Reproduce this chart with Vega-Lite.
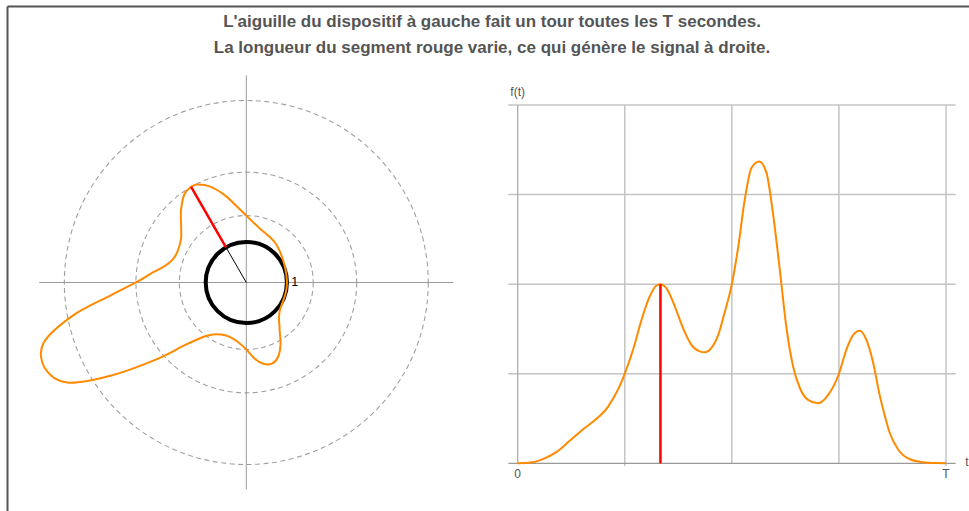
{
  "$schema": "https://vega.github.io/schema/vega-lite/v6.json",
  "width": 962,
  "height": 505,
  "autosize": {"type": "none"},
  "padding": {"left": 7, "top": 6, "right": 0, "bottom": 0},
  "background": "white",
  "title": {
    "text": ["L'aiguille du dispositif à gauche fait un tour toutes les T secondes.", "La longueur du segment rouge varie, ce qui génère le signal à droite."],
    "fontSize": 17,
    "fontWeight": "bold",
    "font": "Liberation Sans",
    "color": "#555555",
    "lineHeight": 26.5,
    "offset": -51,
    "dx": 4,
    "anchor": "middle",
    "frame": "group"
  },
  "config": {
    "view": {"stroke": null},
    "axis": {"ticks": false, "labels": false, "grid": false, "title": null, "domainColor": "#555555", "domainWidth": 2}
  },
  "resolve": {"scale": {"x": "independent", "y": "independent"}, "axis": {"x": "independent", "y": "independent"}},
  "layer": [
    {
      "encoding": {
        "x": {"field": "x", "type": "quantitative", "scale": {"domain": [-5.894, 17.8], "nice": false, "zero": false}, "axis": {"orient": "top"}},
        "y": {"field": "y", "type": "quantitative", "scale": {"domain": [-5.628, 6.81], "nice": false, "zero": false}, "axis": {"orient": "left"}}
      },
      "layer": [
        {
          "data": {"values": [{"x": 0, "y": 0, "r": 1.6487}, {"x": 0, "y": 0, "r": 2.7183}, {"x": 0, "y": 0, "r": 4.4817}]},
          "mark": {"type": "point", "shape": "circle", "filled": false, "stroke": "#a0a0a0", "strokeWidth": 1.1, "strokeDash": [5, 3.5], "opacity": 1},
          "encoding": {"size": {"field": "r", "type": "quantitative", "scale": {"type": "pow", "exponent": 2, "domain": [0, 1], "range": [0, 6593.4]}, "legend": null}}
        },
        {
          "data": {"values": [{"x": -5.1, "y": 0, "x2": 5.1, "y2": 0}, {"x": 0, "y": -5.1, "x2": 0, "y2": 5.1}]},
          "mark": {"type": "rule", "color": "#999999", "strokeWidth": 1},
          "encoding": {"x2": {"field": "x2"}, "y2": {"field": "y2"}}
        },
        {
          "data": {"values": [{"x": 0, "y": 0, "r": 1}]},
          "mark": {"type": "point", "shape": "circle", "filled": false, "stroke": "#000000", "strokeWidth": 4, "opacity": 1},
          "encoding": {"size": {"field": "r", "type": "quantitative", "legend": null}}
        },
        {
          "data": {"values": [{"x": 0, "y": 0, "x2": -0.5, "y2": 0.866}]},
          "mark": {"type": "rule", "color": "#000000", "strokeWidth": 1},
          "encoding": {"x2": {"field": "x2"}, "y2": {"field": "y2"}}
        },
        {
          "data": {"values": [
            {"t": 0, "x": 1, "y": 0},
            {"t": 0.03, "x": 0.9862, "y": 0.1882},
            {"t": 0.06, "x": 0.9533, "y": 0.3774},
            {"t": 0.09, "x": 0.8988, "y": 0.5704},
            {"t": 0.12, "x": 0.824, "y": 0.7737},
            {"t": 0.15, "x": 0.7108, "y": 0.9782},
            {"t": 0.175, "x": 0.5734, "y": 1.1253},
            {"t": 0.192, "x": 0.4640, "y": 1.2165},
            {"t": 0.21, "x": 0.3400, "y": 1.3243},
            {"t": 0.223, "x": 0.2427, "y": 1.417},
            {"t": 0.237, "x": 0.1248, "y": 1.5245},
            {"t": 0.25, "x": 0, "y": 1.6487},
            {"t": 0.2695, "x": -0.2306, "y": 1.8729},
            {"t": 0.289, "x": -0.5399, "y": 2.159},
            {"t": 0.308, "x": -0.9033, "y": 2.368},
            {"t": 0.324, "x": -1.2095, "y": 2.4117},
            {"t": 0.3333, "x": -1.3591, "y": 2.3541},
            {"t": 0.347, "x": -1.5213, "y": 2.1794},
            {"t": 0.367, "x": -1.6082, "y": 1.78},
            {"t": 0.386, "x": -1.6049, "y": 1.397},
            {"t": 0.406, "x": -1.6069, "y": 1.0779},
            {"t": 0.425, "x": -1.6646, "y": 0.8482},
            {"t": 0.437, "x": -1.7152, "y": 0.7168},
            {"t": 0.452, "x": -1.8155, "y": 0.5648},
            {"t": 0.468, "x": -2.0031, "y": 0.4082},
            {"t": 0.483, "x": -2.3032, "y": 0.2469},
            {"t": 0.5, "x": -2.7183, "y": 0},
            {"t": 0.515, "x": -3.3387, "y": -0.3156},
            {"t": 0.53, "x": -4.2722, "y": -0.815},
            {"t": 0.546, "x": -4.9909, "y": -1.484},
            {"t": 0.5636, "x": -4.9676, "y": -2.0982},
            {"t": 0.581, "x": -4.4129, "y": -2.4619},
            {"t": 0.596, "x": -3.3227, "y": -2.289},
            {"t": 0.612, "x": -2.2447, "y": -1.9058},
            {"t": 0.627, "x": -1.5004, "y": -1.5385},
            {"t": 0.643, "x": -1.0682, "y": -1.3429},
            {"t": 0.659, "x": -0.8225, "y": -1.2787},
            {"t": 0.678, "x": -0.6228, "y": -1.2815},
            {"t": 0.701, "x": -0.4236, "y": -1.3322},
            {"t": 0.725, "x": -0.2292, "y": -1.4472},
            {"t": 0.75, "x": 0, "y": -1.6487},
            {"t": 0.7675, "x": 0.207, "y": -1.8757},
            {"t": 0.783, "x": 0.4207, "y": -2.0005},
            {"t": 0.7986, "x": 0.6302, "y": -1.9989},
            {"t": 0.814, "x": 0.7803, "y": -1.8346},
            {"t": 0.83, "x": 0.8435, "y": -1.5341},
            {"t": 0.845, "x": 0.8236, "y": -1.2119},
            {"t": 0.855, "x": 0.815, "y": -1.0508},
            {"t": 0.869, "x": 0.8039, "y": -0.867},
            {"t": 0.889, "x": 0.8256, "y": -0.6921},
            {"t": 0.916, "x": 0.8837, "y": -0.5151},
            {"t": 0.947, "x": 0.9503, "y": -0.3287},
            {"t": 0.975, "x": 0.9887, "y": -0.1566}
          ]},
          "mark": {"type": "line", "color": "#ff8a00", "strokeWidth": 2, "interpolate": "cardinal-closed"},
          "encoding": {"order": {"field": "t", "type": "quantitative"}}
        },
        {
          "data": {"values": [{"x": -0.5, "y": 0.866, "x2": -1.3591, "y2": 2.3541}]},
          "mark": {"type": "rule", "color": "#ff0000", "strokeWidth": 2.5},
          "encoding": {"x2": {"field": "x2"}, "y2": {"field": "y2"}}
        },
        {
          "data": {"values": [{"x": 1.19, "y": 0, "label": "1"}]},
          "mark": {"type": "text", "font": "Liberation Sans", "fontSize": 12.5, "color": "#000000", "align": "center", "baseline": "middle"},
          "encoding": {"text": {"field": "label"}}
        }
      ]
    },
    {
      "encoding": {
        "x": {"field": "t", "type": "quantitative", "scale": {"domain": [-1.19239, 1.0537], "nice": false, "zero": false}, "axis": null},
        "y": {"field": "f", "type": "quantitative", "scale": {"domain": [-0.5325, 5.1052], "nice": false, "zero": false}, "axis": null}
      },
      "layer": [
        {
          "data": {"values": [{"t": -0.022, "t2": 1.0226, "f": 1}, {"t": -0.022, "t2": 1.0226, "f": 2}, {"t": -0.022, "t2": 1.0226, "f": 3}, {"t": -0.022, "t2": 1.0226, "f": 4}]},
          "mark": {"type": "rule", "color": "#c4c4c4", "strokeWidth": 1.5},
          "encoding": {"x2": {"field": "t2"}}
        },
        {
          "data": {"values": [{"t": 0.25, "f": -0.03, "f2": 4}, {"t": 0.5, "f": 0, "f2": 4}, {"t": 0.75, "f": 0, "f2": 4}, {"t": 1, "f": -0.03, "f2": 4}]},
          "mark": {"type": "rule", "color": "#c4c4c4", "strokeWidth": 1.5},
          "encoding": {"y2": {"field": "f2"}}
        },
        {
          "data": {"values": [{"t": 0, "f": 0, "f2": 4}]},
          "mark": {"type": "rule", "color": "#a8a8a8", "strokeWidth": 1.2},
          "encoding": {"y2": {"field": "f2"}}
        },
        {
          "data": {"values": [{"t": -0.022, "t2": 1.0226, "f": 0}]},
          "mark": {"type": "rule", "color": "#999999", "strokeWidth": 1.2},
          "encoding": {"x2": {"field": "t2"}}
        },
        {
          "data": {"values": [
            {"t": 0, "f": 0},
            {"t": 0.03, "f": 0.008},
            {"t": 0.06, "f": 0.05},
            {"t": 0.09, "f": 0.125},
            {"t": 0.12, "f": 0.245},
            {"t": 0.15, "f": 0.37},
            {"t": 0.175, "f": 0.46},
            {"t": 0.192, "f": 0.53},
            {"t": 0.21, "f": 0.625},
            {"t": 0.223, "f": 0.726},
            {"t": 0.237, "f": 0.85},
            {"t": 0.25, "f": 1.0},
            {"t": 0.2695, "f": 1.27},
            {"t": 0.289, "f": 1.6},
            {"t": 0.308, "f": 1.86},
            {"t": 0.324, "f": 1.985},
            {"t": 0.3333, "f": 2.0},
            {"t": 0.347, "f": 1.955},
            {"t": 0.367, "f": 1.75},
            {"t": 0.386, "f": 1.51},
            {"t": 0.406, "f": 1.32},
            {"t": 0.425, "f": 1.25},
            {"t": 0.437, "f": 1.24},
            {"t": 0.452, "f": 1.285},
            {"t": 0.468, "f": 1.43},
            {"t": 0.483, "f": 1.68},
            {"t": 0.5, "f": 2.0},
            {"t": 0.515, "f": 2.42},
            {"t": 0.53, "f": 2.94},
            {"t": 0.546, "f": 3.3},
            {"t": 0.5636, "f": 3.37},
            {"t": 0.581, "f": 3.24},
            {"t": 0.596, "f": 2.79},
            {"t": 0.612, "f": 2.16},
            {"t": 0.627, "f": 1.53},
            {"t": 0.643, "f": 1.08},
            {"t": 0.659, "f": 0.838},
            {"t": 0.678, "f": 0.708},
            {"t": 0.701, "f": 0.67},
            {"t": 0.725, "f": 0.764},
            {"t": 0.75, "f": 1.0},
            {"t": 0.7675, "f": 1.27},
            {"t": 0.783, "f": 1.43},
            {"t": 0.7986, "f": 1.48},
            {"t": 0.814, "f": 1.38},
            {"t": 0.83, "f": 1.12},
            {"t": 0.845, "f": 0.764},
            {"t": 0.855, "f": 0.57},
            {"t": 0.869, "f": 0.335},
            {"t": 0.889, "f": 0.149},
            {"t": 0.916, "f": 0.045},
            {"t": 0.947, "f": 0.011},
            {"t": 0.975, "f": 0.002},
            {"t": 1.0, "f": 0}
          ]},
          "mark": {"type": "line", "color": "#ff8a00", "strokeWidth": 2, "interpolate": "monotone"}
        },
        {
          "data": {"values": [{"t": 0.3333, "f": 0, "f2": 2}]},
          "mark": {"type": "rule", "color": "#ff0000", "strokeWidth": 2.5},
          "encoding": {"y2": {"field": "f2"}}
        },
        {
          "data": {"values": [{"t": 0, "f": 4.145, "label": "f(t)"}, {"t": 0, "f": -0.119, "label": "0"}, {"t": 1, "f": -0.119, "label": "T"}, {"t": 1.049, "f": 0.02, "label": "t"}]},
          "mark": {"type": "text", "font": "Liberation Sans", "fontSize": 12, "color": "#555555", "align": "center", "baseline": "middle"},
          "encoding": {"text": {"field": "label"}}
        }
      ]
    }
  ]
}
